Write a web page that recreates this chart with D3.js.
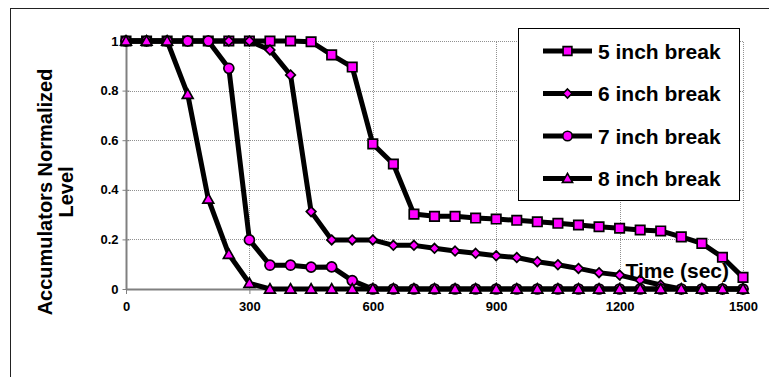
<!DOCTYPE html>
<meta charset="utf-8">
<head>
    <script src="https://d3js.org/d3.v7.min.js"></script>
    <style>
    body { margin: 0; background: white; font-family: "Liberation Sans", Arial, sans-serif; }
    svg { background: white; display: block; }
    .tick text { font: bold 13px "Liberation Sans", Arial, sans-serif; fill: #000; }
    .title { font: bold 21px "Liberation Sans", Arial, sans-serif; fill: #000; }
    .ytitle { font-size: 20px; }
    </style>
</head>
<body>
    <svg id="svgid" width="769" height="377"></svg>
    <script>
        // time points (sec)
        var times = [0,50,100,150,200,250,300,350,400,450,500,550,600,650,700,750,800,850,900,950,1000,1050,1100,1150,1200,1250,1300,1350,1400,1450,1500];

        var names = ["5 inch break", "6 inch break", "7 inch break", "8 inch break"];
        var shapes = ["square", "diamond", "circle", "triangle"];

        var inch5 = [1,1,1,1,1,1,1,1,1,0.997,0.944,0.895,0.585,0.504,0.302,0.293,0.293,0.286,0.282,0.277,0.271,0.265,0.258,0.251,0.245,0.238,0.234,0.21,0.184,0.128,0.047];
        var inch6 = [1,1,1,1,1,1,1,0.964,0.863,0.312,0.198,0.198,0.198,0.176,0.176,0.164,0.153,0.144,0.134,0.127,0.11,0.098,0.083,0.066,0.056,0.036,0.016,0,0,0,0];
        var inch7 = [1,1,1,1,1,0.89,0.198,0.096,0.096,0.088,0.089,0.034,0,0,0,0,0,0,0,0,0,0,0,0,0,0,0,0,0,0,0];
        var inch8 = [1,1,1,0.785,0.363,0.14,0.023,0,0,0,0,0,0,0,0,0,0,0,0,0,0,0,0,0,0,0,0,0,0,0,0];

        var xTicks = [0,300,600,900,1200,1500];
        var yTicks = [0,0.2,0.4,0.6,0.8,1];

        var series = [inch5, inch6, inch7, inch8];

        var svg = d3.select("#svgid");

        // outer chart frame (only top/left inside the picture)
        svg.append("rect")
            .attr("x", 10.5).attr("y", 8.5)
            .attr("width", 900).attr("height", 500)
            .style("fill", "none").style("stroke", "#222").style("stroke-width", 1);

        var x = d3.scaleLinear().domain([0, 1500]).range([126, 743]);
        var y = d3.scaleLinear().domain([0, 1]).range([289, 41]);

        // gridlines
        svg.append("g").selectAll("line.h").data(yTicks.filter(function(d){ return d > 0; }))
            .enter().append("line")
            .attr("x1", x(0)).attr("x2", x(1500))
            .attr("y1", function(d){ return Math.round(y(d)) + 0.5; })
            .attr("y2", function(d){ return Math.round(y(d)) + 0.5; })
            .style("stroke", "#909090").style("stroke-dasharray", "1,1").style("stroke-width", 1);
        svg.append("g").selectAll("line.v").data(xTicks.filter(function(d){ return d > 0; }))
            .enter().append("line")
            .attr("y1", y(0)).attr("y2", y(1))
            .attr("x1", function(d){ return Math.round(x(d)) + 0.5; })
            .attr("x2", function(d){ return Math.round(x(d)) + 0.5; })
            .style("stroke", "#909090").style("stroke-dasharray", "1,1").style("stroke-width", 1);

        // axes
        var yAxis = d3.axisLeft(y).tickValues(yTicks).tickFormat(function(d){ return String(+d.toFixed(1)); })
            .tickSizeInner(7).tickSizeOuter(0).tickPadding(4);
        var gy = svg.append("g").attr("transform", "translate(" + (x(0) + 3.5) + ",0)").call(yAxis);
        gy.select(".domain").remove();
        gy.selectAll(".tick line").style("stroke", "#808080");
        svg.append("line").attr("x1", x(0) + 0.5).attr("x2", x(0) + 0.5).attr("y1", y(1)).attr("y2", y(0))
            .style("stroke", "#808080").style("stroke-width", 2);

        var xAxis = d3.axisBottom(x).tickValues(xTicks).tickFormat(d3.format("d"))
            .tickSizeInner(5).tickSizeOuter(0).tickPadding(8);
        var gx = svg.append("g").attr("transform", "translate(0," + y(0) + ")").call(xAxis);
        gx.select(".domain").remove();
        gx.selectAll(".tick line").style("stroke", "#808080");
        svg.append("line").attr("x1", x(0)).attr("x2", x(1500)).attr("y1", y(0) + 0.5).attr("y2", y(0) + 0.5)
            .style("stroke", "#808080").style("stroke-width", 2);

        function markerPath(shape, s) {
            if (shape === "square") return "M" + (-s) + "," + (-s) + "h" + (2*s) + "v" + (2*s) + "h" + (-2*s) + "Z";
            if (shape === "diamond") return "M0," + (-s) + "L" + s + ",0L0," + s + "L" + (-s) + ",0Z";
            if (shape === "triangle") return "M0," + (-s) + "L" + s + "," + (s*0.75) + "L" + (-s) + "," + (s*0.75) + "Z";
            return d3.symbol().type(d3.symbolCircle).size(Math.PI * s * s)();
        }
        var markerSize = { square: 4.7, diamond: 4.8, circle: 5, triangle: 5.4 };

        var line = d3.line()
            .x(function(d, i){ return x(times[i]); })
            .y(function(d){ return y(d); });

        series.forEach(function(vals, k) {
            var g = svg.append("g");
            g.append("path")
                .attr("d", line(vals))
                .style("fill", "none").style("stroke", "#000").style("stroke-width", 5)
                .style("stroke-linejoin", "round");
            g.selectAll("path.m").data(vals).enter().append("path")
                .attr("transform", function(d, i){ return "translate(" + x(times[i]) + "," + y(d) + ")"; })
                .attr("d", markerPath(shapes[k], markerSize[shapes[k]]))
                .style("fill", "#ff00ff").style("stroke", "#000").style("stroke-width", 1.7);
        });

        // axis titles
        var yt = svg.append("text").attr("class", "title ytitle")
            .attr("transform", "translate(52,192) rotate(-90)")
            .attr("text-anchor", "middle");
        yt.append("tspan").attr("x", 0).attr("dy", 0).text("Accumulators Normalized");
        yt.append("tspan").attr("x", 0).attr("dy", 21).text("Level");

        svg.append("text").attr("class", "title")
            .attr("x", 729).attr("y", 278)
            .attr("text-anchor", "end")
            .text("Time (sec)");

        // legend
        var legY = [51, 93.5, 136, 178.5];
        svg.append("rect")
            .attr("x", 518.5).attr("y", 28.5).attr("width", 221).attr("height", 172)
            .style("fill", "white").style("stroke", "#000").style("stroke-width", 1);
        names.forEach(function(n, k) {
            var g = svg.append("g").attr("transform", "translate(0," + legY[k] + ")");
            g.append("line").attr("x1", 543).attr("x2", 592).attr("y1", 0).attr("y2", 0)
                .style("stroke", "#000").style("stroke-width", 5);
            g.append("path").attr("transform", "translate(567.5,0)")
                .attr("d", markerPath(shapes[k], markerSize[shapes[k]] - 0.3))
                .style("fill", "#ff00ff").style("stroke", "#000").style("stroke-width", 1.6);
            g.append("text").attr("class", "title")
                .attr("x", 598).attr("y", 7.5)
                .text(n);
        });
    </script>
</body>
